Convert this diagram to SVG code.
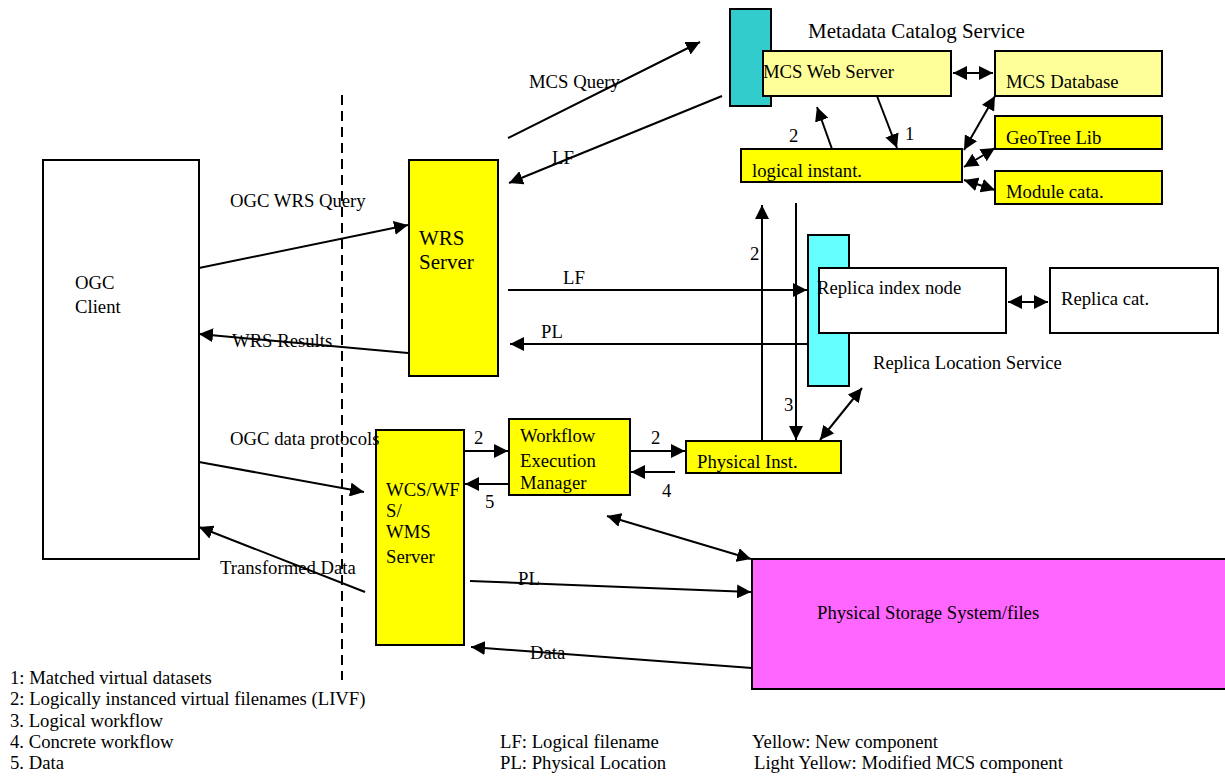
<svg xmlns="http://www.w3.org/2000/svg" width="1225" height="776" viewBox="0 0 1225 776">
<defs>
<marker id="ahb" viewBox="0 0 14 14" refX="14" refY="7" markerWidth="14" markerHeight="14" markerUnits="userSpaceOnUse" orient="auto-start-reverse"><path d="M0,0 L14,7 L0,14 z" fill="#000"/></marker>
</defs>
<style>
text{font-family:"Liberation Serif","Times New Roman",serif;font-size:18.7px;fill:#000}
.box{stroke:#000;stroke-width:2}
.y{fill:#ffff00}.ly{fill:#ffff99}.w{fill:#fff}.t{fill:#33cccc}.c{fill:#66ffff}.m{fill:#ff66ff}
.ln{stroke:#000;stroke-width:2;fill:none}
.a{marker-end:url(#ahb)}
.d{marker-start:url(#ahb);marker-end:url(#ahb)}
.big{font-size:21px}
</style>
<rect width="1225" height="776" fill="#fff"/>
<g id="mcs-bar"><rect class="box t" x="730" y="9" width="41" height="97"/></g>
<g id="mcs-title"><text class="big" x="808" y="38">Metadata Catalog Service</text></g>
<g id="mcs-web"><rect class="box ly" x="763" y="51" width="188" height="45"/><text x="763" y="78">MCS Web Server</text></g>
<g id="mcs-db"><rect class="box ly" x="995" y="51" width="167" height="45"/><text x="1006" y="88">MCS Database</text></g>
<g id="geotree"><rect class="box y" x="995" y="116" width="167" height="33"/><text x="1006" y="144">GeoTree Lib</text></g>
<g id="module"><rect class="box y" x="995" y="171" width="167" height="33"/><text x="1006" y="198">Module cata.</text></g>
<g id="logical"><rect class="box y" x="741" y="149" width="221" height="33"/><text x="752" y="177">logical instant.</text></g>
<g id="wrs"><rect class="box y" x="409" y="160" width="89" height="216"/><text class="big" x="419" y="245">WRS</text><text class="big" x="419" y="269">Server</text></g>
<g id="client"><rect class="box w" x="43" y="160" width="156" height="399"/><text x="75" y="289">OGC</text><text x="75" y="313">Client</text></g>
<g id="rls-bar"><rect class="box c" x="808" y="235" width="41" height="151"/></g>
<g id="replica-index"><rect class="box w" x="819" y="268" width="187" height="65"/><text x="817" y="294">Replica index node</text></g>
<g id="replica-cat"><rect class="box w" x="1050" y="268" width="168" height="65"/><text x="1061" y="305">Replica cat.</text></g>
<g id="rls-title"><text x="873" y="369">Replica Location Service</text></g>
<g id="phys-inst"><rect class="box y" x="686" y="441" width="155" height="32"/><text x="697" y="468">Physical Inst.</text></g>
<g id="wem"><rect class="box y" x="509" y="419" width="121" height="76"/><text x="520" y="442">Workflow</text><text x="520" y="467">Execution</text><text x="520" y="489">Manager</text></g>
<g id="wcs"><rect class="box y" x="376" y="430" width="88" height="215"/><text x="386" y="496">WCS/WF</text><text x="386" y="517">S/</text><text x="386" y="538">WMS</text><text x="386" y="563">Server</text></g>
<g id="storage"><rect class="box m" x="752" y="559" width="480" height="130"/><text x="817" y="619">Physical Storage System/files</text></g>
<g id="connectors">
<line x1="342" y1="95" x2="342" y2="680" stroke="#000" stroke-width="2" stroke-dasharray="10,6"/>
<line class="ln d" x1="953" y1="73" x2="993" y2="73"/>
<line class="ln a" x1="832" y1="149" x2="817" y2="107"/>
<line class="ln a" x1="877" y1="96" x2="897" y2="148"/>
<line class="ln d" x1="964" y1="150" x2="995" y2="96"/>
<line class="ln d" x1="964" y1="167" x2="995" y2="148"/>
<line class="ln d" x1="964" y1="180" x2="995" y2="190"/>
<line class="ln a" x1="508" y1="138" x2="700" y2="42"/>
<line class="ln a" x1="722" y1="96" x2="509" y2="183"/>
<line class="ln a" x1="199" y1="268" x2="408" y2="225"/>
<line class="ln a" x1="408" y1="353" x2="199" y2="334"/>
<line class="ln a" x1="508" y1="290" x2="807" y2="290"/>
<line class="ln a" x1="808" y1="344" x2="510" y2="344"/>
<line class="ln a" x1="762" y1="441" x2="762" y2="205"/>
<line class="ln a" x1="796" y1="203" x2="796" y2="440"/>
<line class="ln d" x1="820" y1="440" x2="862" y2="388"/>
<line class="ln d" x1="1008" y1="302" x2="1048" y2="302"/>
<line class="ln a" x1="464" y1="451" x2="508" y2="451"/>
<line class="ln a" x1="509" y1="484" x2="465" y2="484"/>
<line class="ln a" x1="630" y1="451" x2="685" y2="451"/>
<line class="ln a" x1="675" y1="472" x2="631" y2="472"/>
<line class="ln a" x1="199" y1="462" x2="364" y2="492"/>
<line class="ln a" x1="365" y1="592" x2="199" y2="527"/>
<line class="ln d" x1="607" y1="516" x2="751" y2="559"/>
<line class="ln a" x1="470" y1="581" x2="751" y2="592"/>
<line class="ln a" x1="752" y1="668" x2="471" y2="647"/>
</g>
<g id="labels">
<text x="529" y="88">MCS Query</text>
<text x="552" y="164">LF</text>
<text x="789" y="142">2</text>
<text x="905" y="140">1</text>
<text x="230" y="207">OGC WRS Query</text>
<text x="232" y="347">WRS Results</text>
<text x="563" y="284">LF</text>
<text x="541" y="338">PL</text>
<text x="750" y="260">2</text>
<text x="784" y="411">3</text>
<text x="474" y="444">2</text>
<text x="485" y="508">5</text>
<text x="651" y="444">2</text>
<text x="662" y="497">4</text>
<text x="230" y="445">OGC data protocols</text>
<text x="220" y="574">Transformed Data</text>
<text x="518" y="585">PL</text>
<text x="530" y="659">Data</text>
</g>
<g id="legend">
<text x="10" y="684">1: Matched virtual datasets</text>
<text x="10" y="705">2: Logically instanced virtual filenames (LIVF)</text>
<text x="10" y="727">3. Logical workflow</text>
<text x="10" y="748">4. Concrete workflow</text>
<text x="10" y="769">5. Data</text>
<text x="500" y="748">LF: Logical filename</text>
<text x="500" y="769">PL: Physical Location</text>
<text x="752" y="748">Yellow: New component</text>
<text x="754" y="769">Light Yellow: Modified MCS component</text>
</g>
</svg>
